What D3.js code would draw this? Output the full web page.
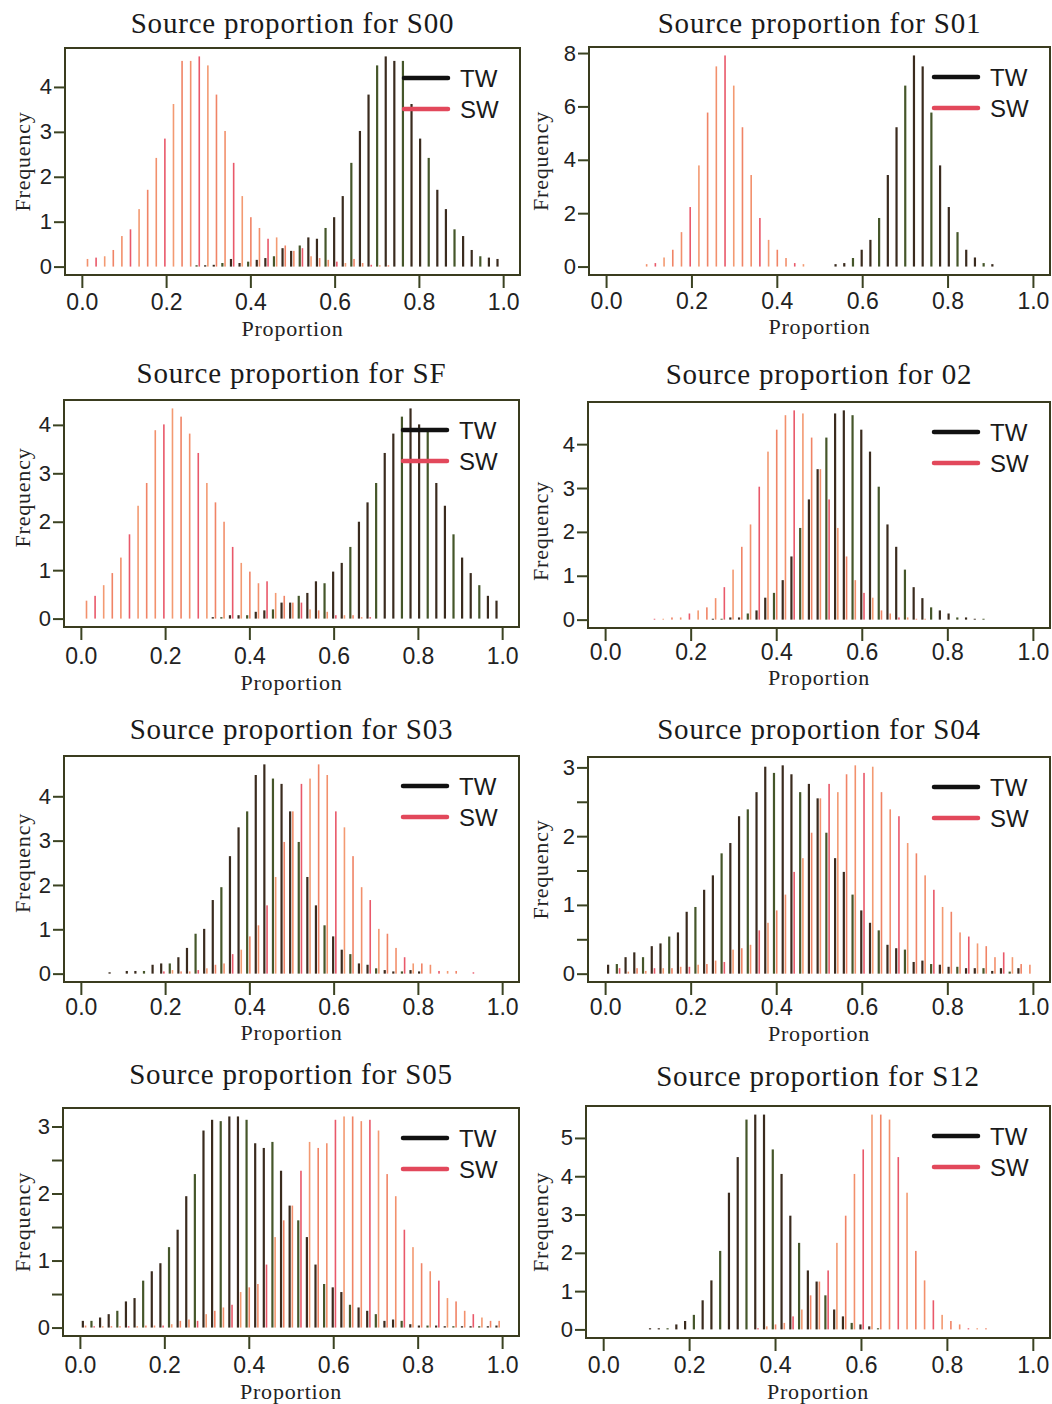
<!DOCTYPE html>
<meta charset="utf-8">
<style>
  body { margin: 0; background: #fff; }
  .title { font-family: "Liberation Serif", serif; font-size: 29px; letter-spacing: 0.8px; fill: #1a1a1a; }
  .xlab, .ylab { font-family: "Liberation Serif", serif; font-size: 22px; letter-spacing: 0.8px; fill: #222; }
  .axis text { font-family: "Liberation Sans", Arial, sans-serif; fill: #222; }
  .axis--x text { font-size: 23px; }
  .axis--y text { font-size: 22px; }
  .axis line { stroke: #3b4322; stroke-width: 2; }
  .axis path { display: none; }
  .legend text { font-family: "Liberation Sans", Arial, sans-serif; font-size: 24px; fill: #1a1a1a; }
</style>
<svg width="1052" height="1404"></svg>
<script src="https://d3js.org/d3.v7.min.js"></script>
<script>

// panel names
var panels = ["S00", "S01", "SF", "02", "S03", "S04", "S05", "S12"];
var seriesNames = ["TW", "SW"];
var xTicks = [0, 0.2, 0.4, 0.6, 0.8, 1.0];
var nBins = 49;

// frequency per bin (49 bins over 0..1)
var s00TW = [0,0,0,0,0,0,0,0,0,0,0,0,0,0.03,0.03,0.04,0.08,0.17,0.08,0.11,0.15,0.19,0.23,0.41,0.35,0.47,0.65,0.62,0.86,1.1,1.57,2.31,3.02,3.83,4.48,4.68,4.58,4.58,3.62,2.85,2.42,1.71,1.28,0.83,0.68,0.37,0.23,0.2,0.17];
var s00SW = [0.17,0.2,0.23,0.37,0.68,0.83,1.28,1.71,2.42,2.85,3.62,4.58,4.58,4.68,4.48,3.83,3.02,2.31,1.57,1.1,0.86,0.62,0.65,0.47,0.35,0.41,0.23,0.19,0.15,0.11,0.08,0.17,0.08,0.04,0.03,0.03,0,0,0,0,0,0,0,0,0,0,0,0,0];

var s01TW = [0,0,0,0,0,0,0,0,0,0,0,0,0,0,0,0,0,0,0,0,0,0,0,0,0,0,0.09,0.13,0.32,0.63,1.0,1.82,3.43,5.22,6.78,7.91,7.5,5.77,3.79,2.23,1.29,0.63,0.34,0.13,0.09,0,0,0,0];
var s01SW = [0,0,0,0,0.09,0.13,0.34,0.63,1.29,2.23,3.79,5.77,7.5,7.91,6.78,5.22,3.43,1.82,1.0,0.63,0.32,0.13,0.09,0,0,0,0,0,0,0,0,0,0,0,0,0,0,0,0,0,0,0,0,0,0,0,0,0,0];

var sfTW = [0,0,0,0,0,0,0,0,0,0,0,0,0,0,0,0.03,0.03,0.07,0.07,0.07,0.14,0.17,0.19,0.33,0.33,0.47,0.53,0.77,0.73,0.97,1.15,1.48,2.0,2.4,2.8,3.42,3.82,4.17,4.34,4.01,3.89,2.8,2.33,1.74,1.26,0.94,0.69,0.47,0.37];
var sfSW = [0.37,0.47,0.69,0.94,1.26,1.74,2.33,2.8,3.89,4.01,4.34,4.17,3.82,3.42,2.8,2.4,2.0,1.48,1.15,0.97,0.73,0.77,0.53,0.47,0.33,0.33,0.19,0.17,0.14,0.07,0.07,0.07,0.03,0.03,0,0,0,0,0,0,0,0,0,0,0,0,0,0,0];

var s02TW = [0,0,0,0,0,0,0,0,0,0,0,0,0.02,0.02,0.05,0.05,0.14,0.21,0.5,0.61,0.9,1.44,2.09,2.74,3.43,4.15,4.7,4.77,4.66,4.33,3.83,3.03,2.17,1.66,1.14,0.74,0.49,0.28,0.21,0.14,0.05,0.05,0.02,0.02,0,0,0,0,0];
var s02SW = [0,0,0,0,0,0.02,0.02,0.05,0.05,0.14,0.21,0.28,0.49,0.74,1.14,1.66,2.17,3.03,3.83,4.33,4.66,4.77,4.7,4.15,3.43,2.74,2.09,1.44,0.9,0.61,0.5,0.21,0.14,0.05,0.05,0.02,0.02,0,0,0,0,0,0,0,0,0,0,0,0];

var s03TW = [0,0,0,0.03,0,0.06,0.06,0.06,0.2,0.23,0.23,0.37,0.58,0.9,1.01,1.66,1.95,2.65,3.3,3.66,4.48,4.72,4.4,4.28,3.66,2.97,2.18,1.54,1.09,0.84,0.54,0.44,0.23,0.2,0.12,0.08,0.05,0.05,0.08,0.05,0,0,0,0,0,0,0,0,0];
var s03SW = [0,0,0,0,0,0,0,0,0,0.05,0.08,0.05,0.05,0.08,0.12,0.2,0.23,0.44,0.54,0.84,1.09,1.54,2.18,2.97,3.66,4.28,4.4,4.72,4.48,3.66,3.3,2.65,1.95,1.66,1.01,0.9,0.58,0.37,0.23,0.23,0.2,0.06,0.06,0.06,0,0.03,0,0,0];

var s04TW = [0.13,0.14,0.24,0.31,0.24,0.4,0.44,0.54,0.6,0.9,0.97,1.22,1.43,1.75,1.9,2.29,2.39,2.64,3.01,2.92,3.03,2.9,2.64,2.76,2.55,2.05,1.68,1.48,1.15,0.92,0.74,0.63,0.42,0.37,0.35,0.17,0.19,0.14,0.13,0.1,0.1,0.08,0.08,0.08,0.04,0.08,0.03,0.08,0];
var s04SW = [0,0.08,0.03,0.08,0.04,0.08,0.08,0.08,0.1,0.1,0.13,0.14,0.19,0.17,0.35,0.37,0.42,0.63,0.74,0.92,1.15,1.48,1.68,2.05,2.55,2.76,2.64,2.9,3.03,2.92,3.01,2.64,2.39,2.29,1.9,1.75,1.43,1.22,0.97,0.9,0.6,0.54,0.44,0.4,0.24,0.31,0.24,0.14,0.13];

var s05TW = [0.1,0.1,0.15,0.2,0.25,0.39,0.44,0.7,0.84,0.96,1.2,1.46,1.96,2.29,2.94,3.1,3.08,3.15,3.15,3.1,2.75,2.68,2.77,2.34,1.82,1.6,1.35,0.94,0.65,0.6,0.53,0.34,0.3,0.25,0.2,0.1,0.12,0.1,0.05,0.03,0.03,0.03,0.02,0.02,0.02,0.02,0.02,0.02,0.03];
var s05SW = [0.03,0.02,0.02,0.02,0.02,0.02,0.02,0.03,0.03,0.03,0.05,0.1,0.12,0.1,0.2,0.25,0.3,0.34,0.53,0.6,0.65,0.94,1.35,1.6,1.82,2.34,2.77,2.68,2.75,3.1,3.15,3.15,3.08,3.1,2.94,2.29,1.96,1.46,1.2,0.96,0.84,0.7,0.44,0.39,0.25,0.2,0.15,0.1,0.1];

var s12TW = [0,0,0,0,0,0.03,0.03,0.03,0.13,0.22,0.38,0.76,1.28,2.05,3.57,4.5,5.48,5.61,5.61,4.7,4.06,2.97,2.26,1.54,1.25,0.89,0.52,0.34,0.17,0.13,0.08,0.03,0,0,0,0,0,0,0,0,0,0,0,0,0,0,0,0,0];
var s12SW = [0,0,0,0,0,0,0,0,0,0,0,0,0,0,0,0,0,0.03,0.08,0.13,0.17,0.34,0.52,0.89,1.25,1.54,2.26,2.97,4.06,4.7,5.61,5.61,5.48,4.5,3.57,2.05,1.28,0.76,0.38,0.22,0.13,0.03,0.03,0.03,0,0,0,0,0];

// y ticks for each panel (unlabelled half ticks in S04 / S05)
var yTicks = [
  [0, 1, 2, 3, 4],
  [0, 2, 4, 6, 8],
  [0, 1, 2, 3, 4],
  [0, 1, 2, 3, 4],
  [0, 1, 2, 3, 4],
  [0, 0.5, 1, 1.5, 2, 2.5, 3],
  [0, 0.5, 1, 1.5, 2, 2.5, 3],
  [0, 1, 2, 3, 4, 5]
];

var twData = [s00TW, s01TW, sfTW, s02TW, s03TW, s04TW, s05TW, s12TW];
var swData = [s00SW, s01SW, sfSW, s02SW, s03SW, s04SW, s05SW, s12SW];

// where each panel sits on the page
var layout = [
  {x0: 65,  x1: 520,  y0: 48,   y1: 275,  titleY: 33,   labY: 302,  propY: 336,  ylabX: 22,  ylabDy: 0},
  {x0: 589, x1: 1050, y0: 47,   y1: 275,  titleY: 33,   labY: 301,  propY: 334,  ylabX: 540, ylabDy: 0},
  {x0: 64,  x1: 519,  y0: 400,  y1: 627,  titleY: 383,  labY: 656,  propY: 690,  ylabX: 22,  ylabDy: -16},
  {x0: 588, x1: 1050, y0: 402,  y1: 628,  titleY: 384,  labY: 652,  propY: 685,  ylabX: 540, ylabDy: 16},
  {x0: 64,  x1: 519,  y0: 756,  y1: 982,  titleY: 739,  labY: 1007, propY: 1040, ylabX: 22,  ylabDy: -6},
  {x0: 588, x1: 1050, y0: 757,  y1: 982,  titleY: 739,  labY: 1007, propY: 1041, ylabX: 540, ylabDy: 0},
  {x0: 63,  x1: 519,  y0: 1108, y1: 1336, titleY: 1084, labY: 1365, propY: 1399, ylabX: 22,  ylabDy: 0},
  {x0: 586, x1: 1050, y0: 1106, y1: 1338, titleY: 1086, labY: 1365, propY: 1399, ylabX: 540, ylabDy: 0}
];

var twColors = ["#3a2b1e", "#45562a", "#3a2b1e"],
    swColors = ["#f2906c", "#e9596a", "#f39a72", "#f08466"],
    legendColors = ["#111111", "#e2485b"];

var svg = d3.select("svg");
svg.append("rect").attr("width", 1052).attr("height", 1404).attr("fill", "#fff");

var centers = d3.range(nBins).map(function(k) { return (k + 0.5) / nBins; });

panels.forEach(function(name, p) {
  var L = layout[p],
      tw = twData[p],
      sw = swData[p];

  var ymax = d3.max(tw.concat(sw));
  var x = d3.scaleLinear().domain([-0.04, 1.04]).range([L.x0, L.x1]),
      y = d3.scaleLinear().domain([-0.04 * ymax, 1.04 * ymax]).range([L.y1, L.y0]);

  var g = svg.append("g");

  // bars: TW slightly left, SW slightly right of the bin centre
  var bars = [];
  centers.forEach(function(c, k) {
    if (tw[k] > 0) bars.push({x: c - 0.0032, v: tw[k], s: 0, k: k});
    if (sw[k] > 0) bars.push({x: c + 0.0032, v: sw[k], s: 1, k: k});
  });

  g.selectAll(".bar")
    .data(bars)
    .enter().append("rect")
      .attr("class", "bar")
      .attr("x", function(d) { return x(d.x) - (d.s === 0 ? 1.1 : 0.8); })
      .attr("width", function(d) { return d.s === 0 ? 2.2 : 1.6; })
      .attr("y", function(d) { return y(d.v); })
      .attr("height", function(d) { return y(0) - y(d.v); })
      .attr("fill", function(d) {
        return d.s === 0 ? twColors[d.k % 3] : swColors[d.k % 4];
      });

  // frame
  g.append("rect")
      .attr("x", L.x0).attr("y", L.y0)
      .attr("width", L.x1 - L.x0).attr("height", L.y1 - L.y0)
      .attr("fill", "none")
      .attr("stroke", "#3a3c1f")
      .attr("stroke-width", 2);

  // x axis
  var xa = g.append("g")
      .attr("class", "axis axis--x")
      .attr("transform", "translate(0," + (L.y1 + 1) + ")")
      .call(d3.axisBottom(x).tickValues(xTicks).tickSize(12).tickFormat(d3.format(".1f")));
  xa.selectAll("text")
      .attr("y", L.labY - L.y1 - 1)
      .attr("dy", "0.36em");

  // y axis
  g.append("g")
      .attr("class", "axis axis--y")
      .attr("transform", "translate(" + L.x0 + ",0)")
      .call(d3.axisLeft(y).tickValues(yTicks[p]).tickSize(11).tickPadding(2)
        .tickFormat(function(d) { return Number.isInteger(d) ? d : ""; }));

  // titles
  svg.append("text")
      .attr("class", "title")
      .attr("x", (L.x0 + L.x1) / 2)
      .attr("y", L.titleY)
      .attr("text-anchor", "middle")
      .text("Source proportion for " + name);

  svg.append("text")
      .attr("class", "xlab")
      .attr("x", (L.x0 + L.x1) / 2)
      .attr("y", L.propY)
      .attr("text-anchor", "middle")
      .text("Proportion");

  svg.append("text")
      .attr("class", "ylab")
      .attr("transform", "translate(" + L.ylabX + "," + ((L.y0 + L.y1) / 2 + L.ylabDy) + ") rotate(-90)")
      .attr("dy", "0.35em")
      .attr("text-anchor", "middle")
      .text("Frequency");

  // legend
  var lg = svg.append("g").attr("class", "legend");
  seriesNames.forEach(function(s, i) {
    var ly = L.y0 + 30 + i * 31;
    lg.append("line")
        .attr("x1", L.x1 - 116).attr("x2", L.x1 - 72)
        .attr("y1", ly).attr("y2", ly)
        .attr("stroke", legendColors[i])
        .attr("stroke-width", 4.5)
        .attr("stroke-linecap", "round");
    lg.append("text")
        .attr("x", L.x1 - 60)
        .attr("y", ly)
        .attr("dy", "0.36em")
        .text(s);
  });
});

</script>
